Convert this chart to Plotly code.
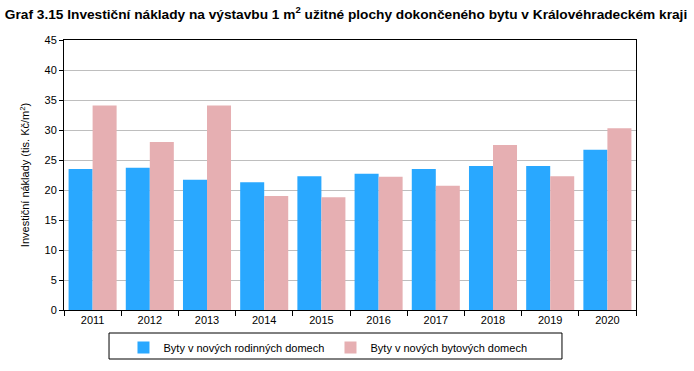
import plotly.graph_objects as go

years = ["2011", "2012", "2013", "2014", "2015", "2016", "2017", "2018", "2019", "2020"]
rodinne = [23.5, 23.7, 21.7, 21.3, 22.3, 22.7, 23.5, 24.0, 24.0, 26.7]
bytove = [34.1, 28.0, 34.1, 19.0, 18.8, 22.2, 20.7, 27.5, 22.3, 30.3]
y_ticks = [0, 5, 10, 15, 20, 25, 30, 35, 40, 45]

name_rod = "Byty v nových rodinných domech"
name_byt = "Byty v nových bytových domech"
title = "Graf 3.15 Investiční náklady na výstavbu 1 m<sup>2</sup> užitné plochy dokončeného bytu v Královéhradeckém kraji"

font = "Liberation Sans, Arial, sans-serif"

fig = go.Figure()
fig.add_trace(go.Bar(x=years, y=rodinne, name=name_rod, marker=dict(color="#29A8FF", line=dict(width=0))))
fig.add_trace(go.Bar(x=years, y=bytove, name=name_byt, marker=dict(color="#E6AFB2", line=dict(width=0))))

fig.update_layout(
    width=694, height=371,
    margin=dict(l=64, r=58, t=40, b=61, autoexpand=False),
    paper_bgcolor="white", plot_bgcolor="white",
    barmode="group", bargap=0.16, bargroupgap=0,
    font=dict(family=font, size=11, color="black"),
    title=dict(text=title, x=0.007, xanchor="left", y=0.975, yanchor="top",
               font=dict(family=font, size=13.7, color="black", weight="bold")),
    showlegend=True,
    legend=dict(orientation="h", x=0.104, xanchor="left", y=-0.085, yanchor="top",
                bgcolor="rgba(0,0,0,0)", borderwidth=0, itemwidth=30,
                entrywidth=162, entrywidthmode="pixels",
                font=dict(family=font, size=11, color="black"), traceorder="normal"),
    xaxis=dict(showline=True, linecolor="black", linewidth=1, mirror=True, automargin=False,
               ticks="outside", tickson="boundaries", ticklen=5, tickcolor="black",
               tickfont=dict(size=11), showgrid=False),
    yaxis=dict(range=[0, 45], tickvals=y_ticks, showline=True, linecolor="black", linewidth=1, mirror=True,
               automargin=False,
               ticks="outside", ticklen=4, tickcolor="black",
               showgrid=True, gridcolor="#BEBEBE", gridwidth=1,
               tickfont=dict(size=11),
               title=dict(text="Investiční náklady (tis. Kč/m<sup>2</sup>)", font=dict(size=11), standoff=12)),
    shapes=[dict(type="rect", xref="paper", yref="paper", x0=0.0787, x1=0.8706, y0=-0.1815, y1=-0.0852,
                 line=dict(color="black", width=1), fillcolor="rgba(0,0,0,0)")],
)

fig.write_html("out.html", config={"displayModeBar": False},
               post_script="document.body.style.margin='0';")
